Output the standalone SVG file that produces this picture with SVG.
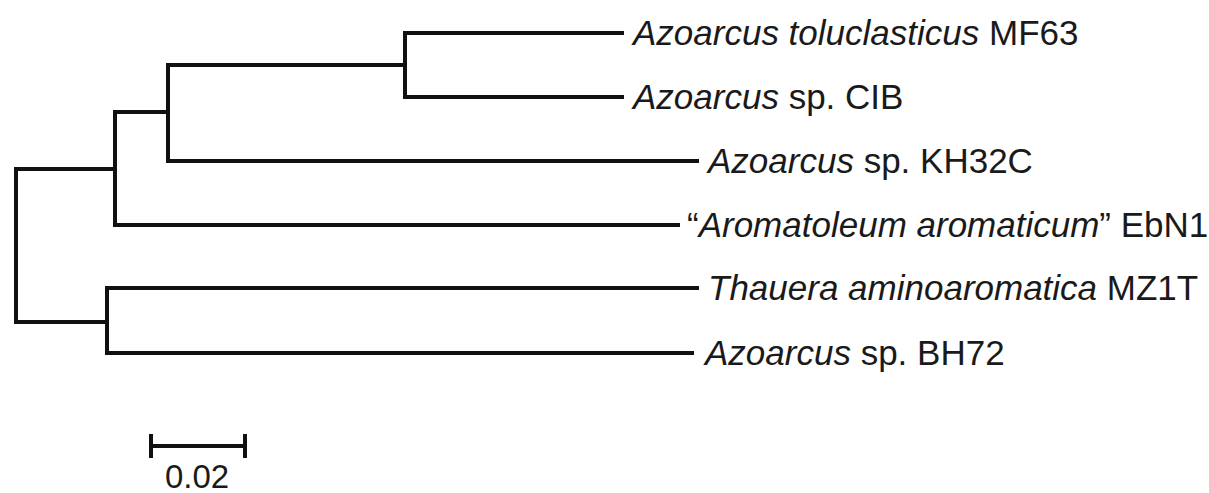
<svg xmlns="http://www.w3.org/2000/svg" width="1209" height="493" viewBox="0 0 1209 493">
  <style>
    .br { fill: none; stroke: #111; stroke-width: 4; stroke-linecap: square; stroke-linejoin: miter; }
    .lbl { font-family: "Liberation Sans", Arial, sans-serif; font-size: 35px; fill: #1a1a1a; }
    .sp { font-style: italic; }
    .sc { font-family: "Liberation Sans", Arial, sans-serif; font-size: 33px; fill: #1a1a1a; text-anchor: middle; }
  </style>
  <rect width="1209" height="493" fill="#ffffff"/>
  <g id="connectors">
    <path class="br" d="M16,169 V322"/>
    <path class="br" d="M16,169 H115"/>
    <path class="br" d="M16,322 H107"/>
    <path class="br" d="M115,112 V225"/>
    <path class="br" d="M115,112 H168"/>
    <path class="br" d="M115,225 H678"/>
    <path class="br" d="M168,65 V161"/>
    <path class="br" d="M168,65 H405"/>
    <path class="br" d="M168,161 H697"/>
    <path class="br" d="M405,33 V97"/>
    <path class="br" d="M405,33 H622"/>
    <path class="br" d="M405,97 H622"/>
    <path class="br" d="M107,288 V353"/>
    <path class="br" d="M107,288 H697"/>
    <path class="br" d="M107,353 H692"/>
  </g>
  <g id="leaf-mf63"><text class="lbl" x="633" y="45"><tspan class="sp">Azoarcus toluclasticus</tspan> MF63</text></g>
  <g id="leaf-cib"><text class="lbl" x="633" y="109"><tspan class="sp">Azoarcus</tspan> sp. CIB</text></g>
  <g id="leaf-kh32c"><text class="lbl" x="708" y="173"><tspan class="sp">Azoarcus</tspan> sp. KH32C</text></g>
  <g id="leaf-ebn1"><text class="lbl" x="687" y="237">“<tspan class="sp">Aromatoleum aromaticum</tspan>” EbN1</text></g>
  <g id="leaf-mz1t"><text class="lbl" x="708" y="300"><tspan class="sp">Thauera aminoaromatica</tspan> MZ1T</text></g>
  <g id="leaf-bh72"><text class="lbl" x="705" y="365"><tspan class="sp">Azoarcus</tspan> sp. BH72</text></g>
  <g id="scale-bar">
    <path class="br" d="M151,446 H245 M151,434 V458 M245,434 V458" style="stroke-linecap:butt"/>
    <text class="sc" x="197" y="488">0.02</text>
  </g>
</svg>
